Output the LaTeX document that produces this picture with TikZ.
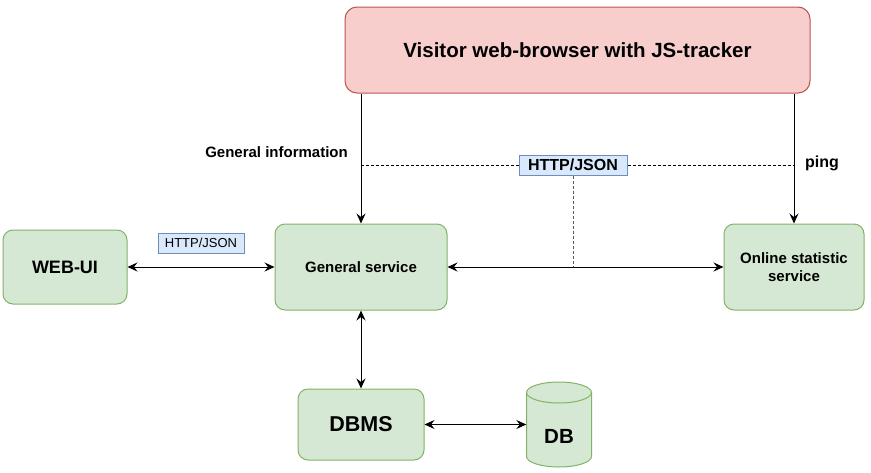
\documentclass[tikz,border=0pt]{standalone}
\usepackage{fontspec}
\setmainfont{Liberation Sans}
\usetikzlibrary{arrows.meta,positioning,calc}
\definecolor{redfill}{HTML}{F8CECC}
\definecolor{redline}{HTML}{B85450}
\definecolor{greenfill}{HTML}{D5E8D4}
\definecolor{greenline}{HTML}{82B366}
\definecolor{bluefill}{HTML}{DAE8FC}
\definecolor{blueline}{HTML}{6C8EBF}
\tikzset{
  box/.style={draw=greenline, fill=greenfill, rounded corners=10pt, line width=1pt, align=center, inner sep=0pt, font=\bfseries},
  lbl/.style={draw=blueline, fill=bluefill, line width=1pt, inner sep=2pt},
  conn/.style={line width=1pt, draw=black},
  both/.style={conn, {Stealth[length=10pt,width=9pt,inset=3.5pt]}-{Stealth[length=10pt,width=9pt,inset=3.5pt]}},
  one/.style={conn, -{Stealth[length=10pt,width=9pt,inset=3.5pt]}},
  dashline/.style={line width=0.8pt, dash pattern=on 3pt off 2pt}
}
\begin{document}
\begin{tikzpicture}[x=1pt,y=-1pt]
\useasboundingbox (0,0) rectangle (871,472);
\node[draw=redline, fill=redfill, rounded corners=12pt, line width=1pt, minimum width=465pt, minimum height=86pt, font=\bfseries\fontsize{20.5}{24}\selectfont] (top) at (577.5,50) {Visitor web-browser with JS-tracker};
\node[box, minimum width=124pt, minimum height=74pt, font=\bfseries\fontsize{18}{21}\selectfont] (webui) at (65,267) {WEB-UI};
\node[box, minimum width=172pt, minimum height=86pt, font=\bfseries\fontsize{15}{18}\selectfont] (gs) at (361,267) {General service};
\node[box, minimum width=140pt, minimum height=86pt, font=\bfseries\fontsize{15}{18}\selectfont] (os) at (794,267) {Online statistic\\service};
\node[box, minimum width=126pt, minimum height=71pt, font=\bfseries\fontsize{21.5}{25}\selectfont] (dbms) at (361,424.5) {DBMS};
% DB cylinder
\draw[draw=greenline, fill=greenfill, line width=1pt] (526.5,392.5) -- (526.5,456.5) arc[start angle=180, end angle=0, x radius=32.5, y radius=10.5] -- (591.5,392.5) arc[start angle=0, end angle=-180, x radius=32.5, y radius=10.5] -- cycle;
\draw[draw=greenline, line width=1pt] (526.5,392.5) arc[start angle=180, end angle=0, x radius=32.5, y radius=10.5];
\node[minimum width=65pt, minimum height=86pt, inner sep=0pt] (db) at (559,424.5) {};
\node[font=\bfseries\fontsize{20.5}{24}\selectfont, inner sep=0pt] (dbt) at (559,436) {DB};
% connectors
\draw[one] (gs.north |- top.south) -- (gs.north);
\draw[one] (os.north |- top.south) -- (os.north);
\draw[both] (webui.east) -- (gs.west);
\draw[both] (gs.east) -- (os.west);
\draw[both] (gs.south) -- (dbms.north);
\draw[both] (dbms.east) -- (db.west);
% dashed HTTP/JSON
\coordinate (dl) at (361,165);
\coordinate (dr) at (794,165);
\node[lbl, font=\bfseries\fontsize{16}{19}\selectfont, minimum width=108pt, minimum height=20pt] (hj) at (573,165) {HTTP/JSON};
\coordinate (dm) at (573,267);
\draw[dashline] (dl) -- (hj.west);
\draw[dashline] (hj.east) -- (dr);
\draw[dashline, draw=black!65] (hj.south) -- (dm);
\node[lbl, font=\fontsize{13}{16}\selectfont, minimum width=86pt, minimum height=20pt] (hj2) at (201,243) {HTTP/JSON};
\node[font=\bfseries\fontsize{15}{18}\selectfont, anchor=east, inner sep=0pt] (gi) at (348,152) {General information};
\node[font=\bfseries\fontsize{16}{19}\selectfont, anchor=west, inner sep=0pt] (ping) at (805,163) {ping};
\end{tikzpicture}
\end{document}
